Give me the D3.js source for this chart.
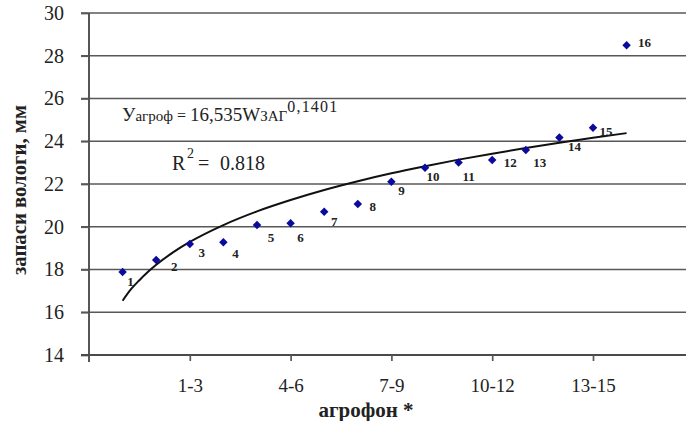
<!DOCTYPE html>
<html><head><meta charset="utf-8">
<script src="https://cdn.jsdelivr.net/npm/d3@7"></script>
<style>
html,body{margin:0;padding:0;background:#fff;}
svg{display:block;}
</style></head>
<body>
<svg id="chart" width="686" height="421"></svg>
<script>
// ---- data ----
const pointIds = [1,2,3,4,5,6,7,8,9,10,11,12,13,14,15,16];
const moisture = [17.88,18.44,19.19,19.27,20.08,20.16,20.70,21.06,22.11,22.76,23.01,23.12,23.59,24.17,24.63,28.49];
const trendX = [1,1.25,1.5,1.75,2,2.5,3,4,5,6,7,8,9,10,11,12,13,14,15,16];
const trendY = [16.54,17.08,17.50,17.88,18.22,18.80,19.29,20.08,20.72,21.25,21.72,22.13,22.50,22.83,23.14,23.42,23.68,23.93,24.16,24.38];
const xTickVals = [3,6,9,12,15];
const xTickLabels = ["1-3","4-6","7-9","10-12","13-15"];
const yTicks = [14,16,18,20,22,24,26,28,30];
// label nudges (layout only)
const labelNudge = [[8,9],[18,6],[12,8],[12,11],[14,12],[10,14],[10,10],[15,2],[10,9],[8,9],[10,14],[18,2],[14,12],[15,9],[13,4],[18,-3]];

const FONT = "'Liberation Serif'";
const svg = d3.select("#chart");
const W = 686, H = 421;
svg.append("rect").attr("width",W).attr("height",H).attr("fill","#fff");

const x = d3.scaleLinear().domain([0,18]).range([89, 89+18*33.6]);
const y = d3.scaleLinear().domain([14,30]).range([355,13]);

// gridlines
svg.append("g").selectAll("line").data(yTicks.filter(d=>d>14)).join("line")
  .attr("x1",81).attr("x2",W).attr("y1",d=>y(d)).attr("y2",d=>y(d))
  .attr("stroke","#585858").attr("stroke-width",1.7);

// y axis
const yAxis = d3.axisLeft(y).tickValues(yTicks).tickSize(8).tickSizeOuter(0).tickPadding(17);
const gy = svg.append("g").attr("transform","translate(89,0)").call(yAxis);
gy.select(".domain").attr("stroke","#444").attr("stroke-width",1.8).attr("d","M0,13V362");
gy.selectAll(".tick line").attr("stroke","#585858").attr("stroke-width",1.7);
gy.selectAll(".tick text").style("font-family",FONT).style("font-size","20px").attr("fill","#222");

// x axis
const xAxis = d3.axisBottom(x).tickValues(xTickVals).tickFormat((d,i)=>xTickLabels[i])
  .tickSize(6).tickSizeOuter(0).tickPadding(18);
const gx = svg.append("g").attr("transform","translate(0,355)").call(xAxis);
gx.select(".domain").attr("stroke","#4a4a4a").attr("stroke-width",1.8).attr("d","M81,0H"+W);
gx.selectAll(".tick line").attr("stroke","#585858").attr("stroke-width",1.7);
gx.selectAll(".tick text").style("font-family",FONT).style("font-size","19px").attr("fill","#222");

// trendline
const line = d3.line().x((d,i)=>x(trendX[i])).y(d=>y(d)).curve(d3.curveMonotoneX);
svg.append("path").datum(trendY).attr("d",line)
  .attr("fill","none").attr("stroke","#111").attr("stroke-width",2);

// points (square diamonds)
const sym = d3.symbol().type(d3.symbolSquare).size(36);
svg.append("g").selectAll("path").data(moisture).join("path")
  .attr("d",sym)
  .attr("transform",(d,i)=>`translate(${x(pointIds[i])},${y(d)}) rotate(45)`)
  .attr("fill","#0a0a9c");

// point labels
svg.append("g").selectAll("text").data(moisture).join("text")
  .attr("x",(d,i)=>x(pointIds[i])+labelNudge[i][0])
  .attr("y",(d,i)=>y(d)+labelNudge[i][1])
  .attr("dy","0.35em").attr("text-anchor","middle")
  .style("font-family",FONT).style("font-size","13px").style("font-weight","bold").attr("fill","#222")
  .text((d,i)=>pointIds[i]);

// equation
const eq = svg.append("text").attr("x",122).attr("y",121).attr("fill","#222")
  .style("font-family",FONT).style("font-size","19px");
eq.append("tspan").text("У");
eq.append("tspan").style("font-size","15px").text("агроф");
eq.append("tspan").style("font-size","16px").text(" = ");
eq.append("tspan").text("16,535W");
eq.append("tspan").style("font-size","15px").text("ЗАГ");
eq.append("tspan").attr("dy",-9).style("font-size","16px").style("letter-spacing","1.2px").text("0,1401");

const r2 = svg.append("text").attr("x",172).attr("y",170).attr("fill","#222")
  .style("font-family",FONT).style("font-size","20px");
r2.append("tspan").text("R");
r2.append("tspan").attr("x",187).attr("y",158).style("font-size","14px").text("2");
r2.append("tspan").attr("x",198).attr("y",170).text("=");
r2.append("tspan").attr("x",220).attr("y",170).text("0.818");

// axis titles
svg.append("text").attr("x",366).attr("y",417).attr("text-anchor","middle")
  .style("font-family",FONT).style("font-size","21px").style("font-weight","bold").attr("fill","#222").text("агрофон *");
svg.append("text").attr("transform","translate(26,190) rotate(-90)").attr("text-anchor","middle")
  .attr("textLength",170).attr("lengthAdjust","spacingAndGlyphs")
  .style("font-family",FONT).style("font-size","20px").style("font-weight","bold").attr("fill","#222").text("запаси вологи, мм");
</script>
</body></html>
